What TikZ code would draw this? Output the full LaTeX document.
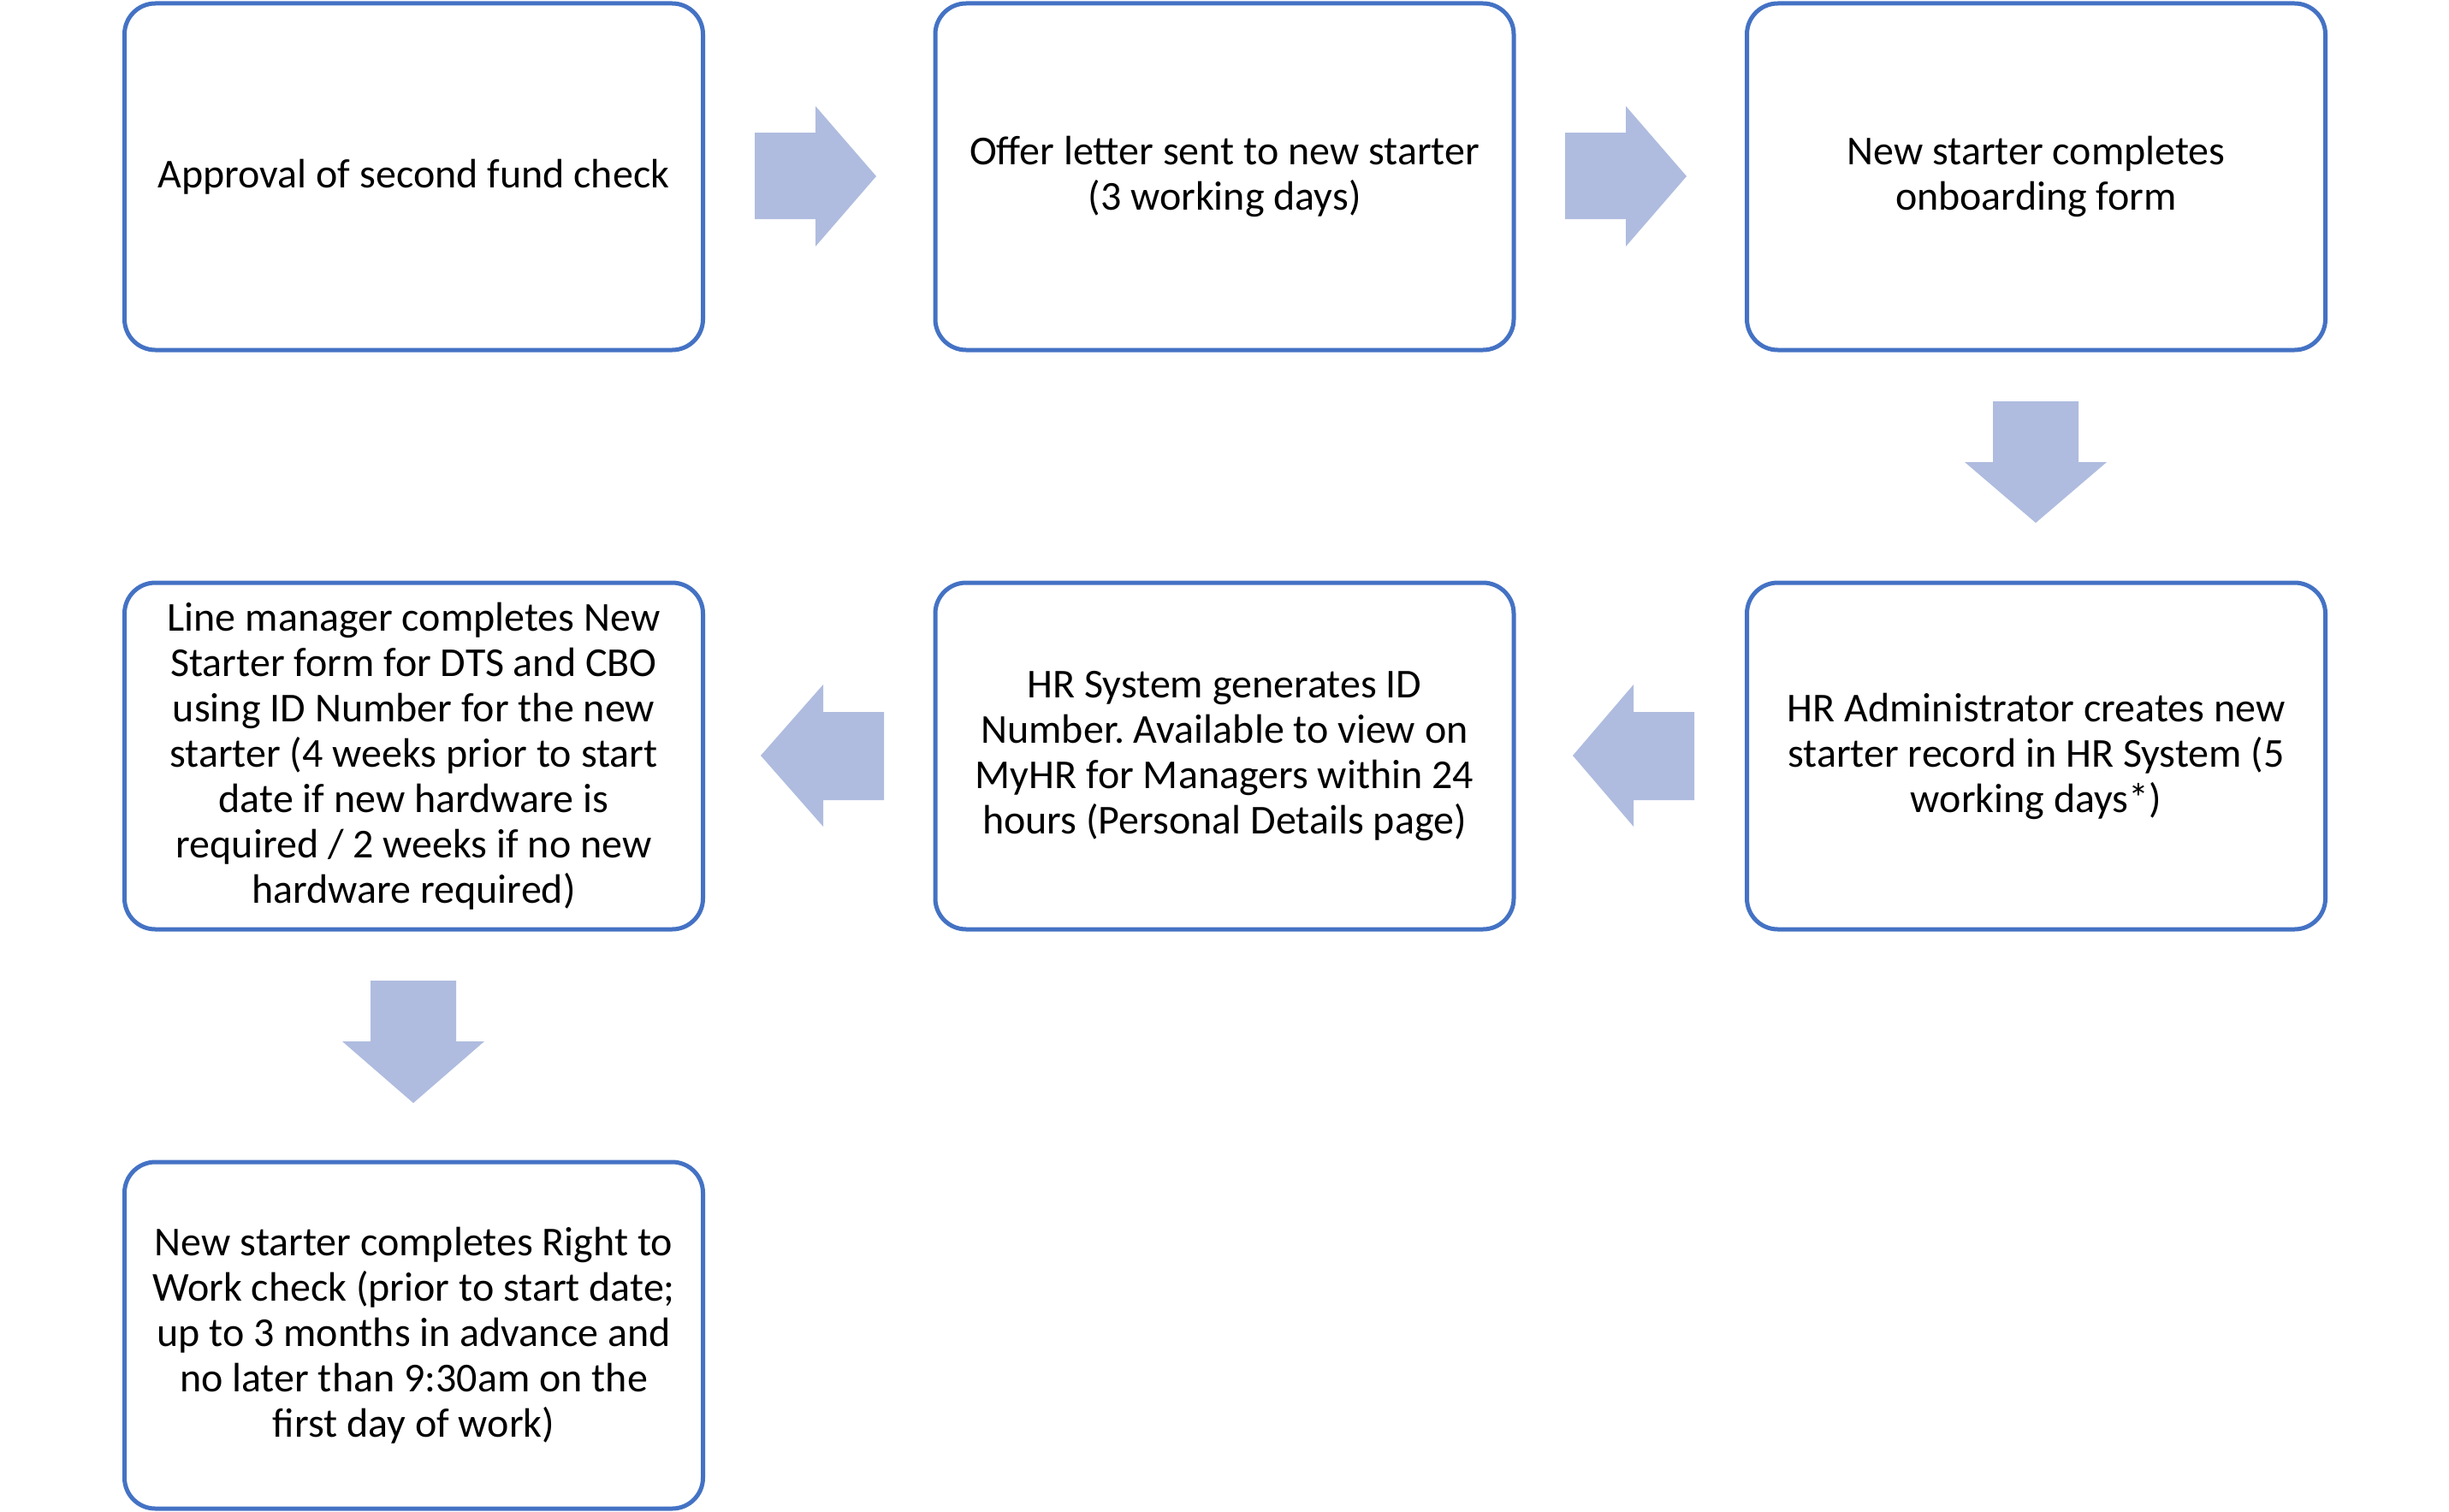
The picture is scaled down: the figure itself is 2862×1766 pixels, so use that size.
\documentclass[tikz,border=0pt]{standalone}
\usepackage{fontspec}
\setmainfont{Carlito}
\frenchspacing
\definecolor{boxblue}{RGB}{68,114,196}
\definecolor{arrowfill}{RGB}{175,188,223}
\begin{document}
\begin{tikzpicture}[x=0.5pt,y=-0.5pt,
  box/.style={draw=boxblue, line width=2.5pt, rounded corners=18pt, fill=white,
    minimum width=338pt, minimum height=202.5pt, align=center, inner sep=2pt,
    font=\fontsize{24}{26.5}\selectfont},
  blockarrow/.style={fill=arrowfill, draw=none}]
\useasboundingbox[fill=white] (0,0) rectangle (2862,1766);

\node[box] (b1) at (483.5,206.5) {Approval of second fund check};
\node[box] (b2) at (1431,206.5) {Offer letter sent to new starter\\(3 working days)};
\node[box] (b3) at (2379.5,206.5) {New starter completes\\onboarding form};
\node[box] (b6) at (2379.5,883.5) {HR Administrator creates new\\starter record in HR System (5\\working days*)};
\node[box] (b5) at (1431,883.5) {HR System generates ID\\Number. Available to view on\\MyHR for Managers within 24\\hours (Personal Details page)};
\node[box] (b4) at (483.5,883.5) {Line manager completes New\\Starter form for DTS and CBO\\using ID Number for the new\\starter (4 weeks prior to start\\date if new hardware is\\required / 2 weeks if no new\\hardware required)};
\node[box] (b7) at (483.5,1560.5) {New starter completes Right to\\Work check (prior to start date;\\up to 3 months in advance and\\no later than 9:30am on the\\first day of work)};

% right arrows
\fill[blockarrow] (882,155) -- (953,155) -- (953,124) -- (1024,206) -- (953,288) -- (953,256) -- (882,256) -- cycle;
\fill[blockarrow] (1829,155) -- (1900,155) -- (1900,124) -- (1971,206) -- (1900,288) -- (1900,256) -- (1829,256) -- cycle;
% down arrow right column
\fill[blockarrow] (2329,469) -- (2429,469) -- (2429,540) -- (2462,540) -- (2379,611) -- (2296,540) -- (2329,540) -- cycle;
% left arrows
\fill[blockarrow] (1980,832) -- (1909,832) -- (1909,800) -- (1838,883) -- (1909,966) -- (1909,935) -- (1980,935) -- cycle;
\fill[blockarrow] (1033,832) -- (962,832) -- (962,800) -- (889,883) -- (962,966) -- (962,935) -- (1033,935) -- cycle;
% down arrow left column
\fill[blockarrow] (433,1146) -- (533,1146) -- (533,1217) -- (566,1217) -- (483,1289) -- (400,1217) -- (433,1217) -- cycle;
\end{tikzpicture}
\end{document}
